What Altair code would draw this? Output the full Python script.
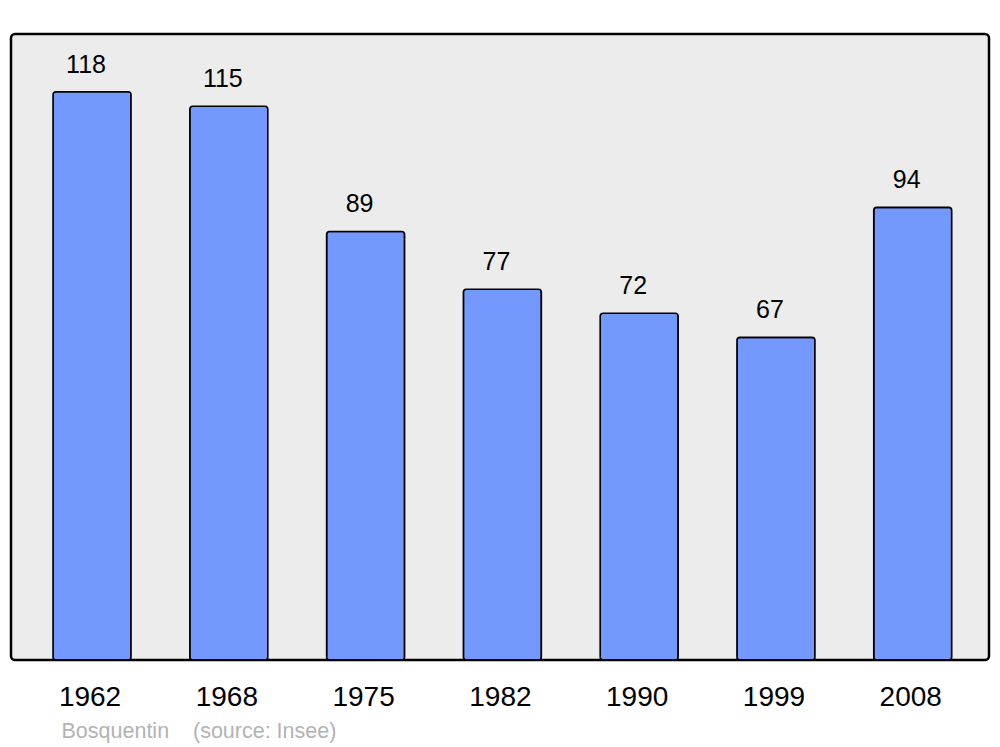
import altair as alt
import pandas as pd

years = ["1962", "1968", "1975", "1982", "1990", "1999", "2008"]
population = [118, 115, 89, 77, 72, 67, 94]
footer = "Bosquentin\u00a0\u00a0\u00a0\u00a0(source: Insee)"

df = pd.DataFrame({"year": years, "pop": population})

x = alt.X(
    "year:N",
    sort=years,
    scale=alt.Scale(paddingInner=0.43, paddingOuter=0.29, align=0.53),
    axis=alt.Axis(
        title=footer,
        titleFont="Liberation Sans",
        titleFontSize=21.5,
        titleFontWeight="normal",
        titleColor="#b3b3b3",
        titleAnchor="start",
        titleAlign="left",
        titleX=50,
        titleY=77,
        titleBaseline="alphabetic",
        labelFont="Liberation Sans",
        labelFontSize=28,
        labelColor="black",
        labelAngle=0,
        labelBaseline="alphabetic",
        labelPadding=45,
        labelOffset=-2,
        ticks=False,
        tickSize=0,
        domain=False,
        grid=False,
    ),
)
y = alt.Y("pop:Q", scale=alt.Scale(domain=[0, 130], nice=False), axis=None)

bars = alt.Chart(df).mark_bar(
    color="#7399ff", stroke="black", strokeWidth=1.6, cornerRadius=3
).encode(x=x, y=y)

labels = alt.Chart(df).mark_text(
    font="Liberation Sans", fontSize=25, color="black",
    baseline="alphabetic", dy=-19, dx=-6
).encode(x=x, y=y, text="pop:Q")

chart = (bars + labels).properties(
    width=978, height=626,
    autosize=alt.AutoSizeParams(type="none"),
    padding={"left": 3, "top": 26, "right": 3, "bottom": 90},
    background="white",
).configure_view(
    fill="#ececec", stroke="black", strokeWidth=2.5, cornerRadius=4
)

chart.save("out.html", embed_options={"renderer": "svg", "actions": False})
